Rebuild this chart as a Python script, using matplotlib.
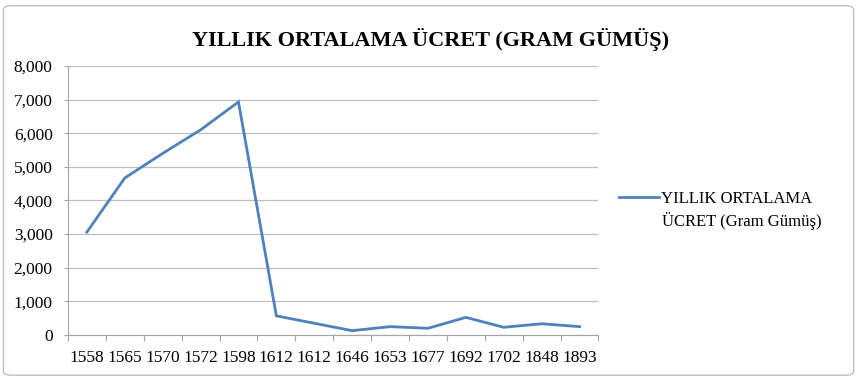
import matplotlib.pyplot as plt
from matplotlib.patches import FancyBboxPatch

# Data
years = ["1558", "1565", "1570", "1572", "1598", "1612", "1612", "1646",
         "1653", "1677", "1692", "1702", "1848", "1893"]
wages = [3060, 4670, 5400, 6100, 6930, 570, 350, 130,
         250, 200, 525, 230, 335, 250]

title = "YILLIK ORTALAMA ÜCRET (GRAM GÜMÜŞ)"
label_line1 = "YILLIK ORTALAMA"
label_line2 = "ÜCRET (Gram Gümüş)"
yticks = [0, 1000, 2000, 3000, 4000, 5000, 6000, 7000, 8000]

plt.rcParams['font.family'] = ['Liberation Serif', 'DejaVu Serif']

fig = plt.figure(figsize=(8.57, 3.79), dpi=100)

# outer chart border
border = FancyBboxPatch((0.004, 0.01), 0.992, 0.975, boxstyle="round,pad=0,rounding_size=0.01",
                        transform=fig.transFigure, facecolor="none",
                        edgecolor="#bfbfbf", linewidth=1.0, zorder=-1)
fig.patches.append(border)

ax = fig.add_axes([0.0793, 0.116, 0.619, 0.710])
x = list(range(len(years)))
line, = ax.plot(x, wages, color="#4F81BD", linewidth=2.0, solid_joinstyle="miter")

ax.set_xlim(-0.5, len(years) - 0.5)
ax.set_ylim(0, 8000)
ax.set_yticks(yticks)
ax.set_yticklabels([f"{v:,}" for v in yticks], fontsize=12.5)
ax.set_xticks(x)
ax.set_xticklabels(years, fontsize=12.5)
ax.set_xticks([i - 0.5 for i in range(len(years) + 1)], minor=True)
ax.tick_params(axis="x", which="major", length=0, pad=11)
ax.tick_params(axis="x", which="minor", length=4, color="#a6a6a6", width=0.8)
ax.tick_params(axis="y", length=3, color="#a6a6a6", width=0.8, pad=8)

ax.grid(axis="y", color="#bfbfbf", linewidth=0.9)
ax.set_axisbelow(True)
for side in ["top", "right"]:
    ax.spines[side].set_visible(False)
for side in ["left", "bottom"]:
    ax.spines[side].set_color("#a6a6a6")
    ax.spines[side].set_linewidth(0.8)

fig.text(0.502, 0.895, title, ha="center", va="center", fontsize=16, fontweight="bold")

leg = fig.legend([line], [label_line1], loc="center left", bbox_to_anchor=(0.722, 0.475),
                 frameon=False, fontsize=12, handlelength=2.4, handletextpad=0.15,
                 borderaxespad=0, borderpad=0)
fig.text(0.7725, 0.418, label_line2, ha="left", va="center", fontsize=12)

fig.savefig("out.png", dpi=100)
